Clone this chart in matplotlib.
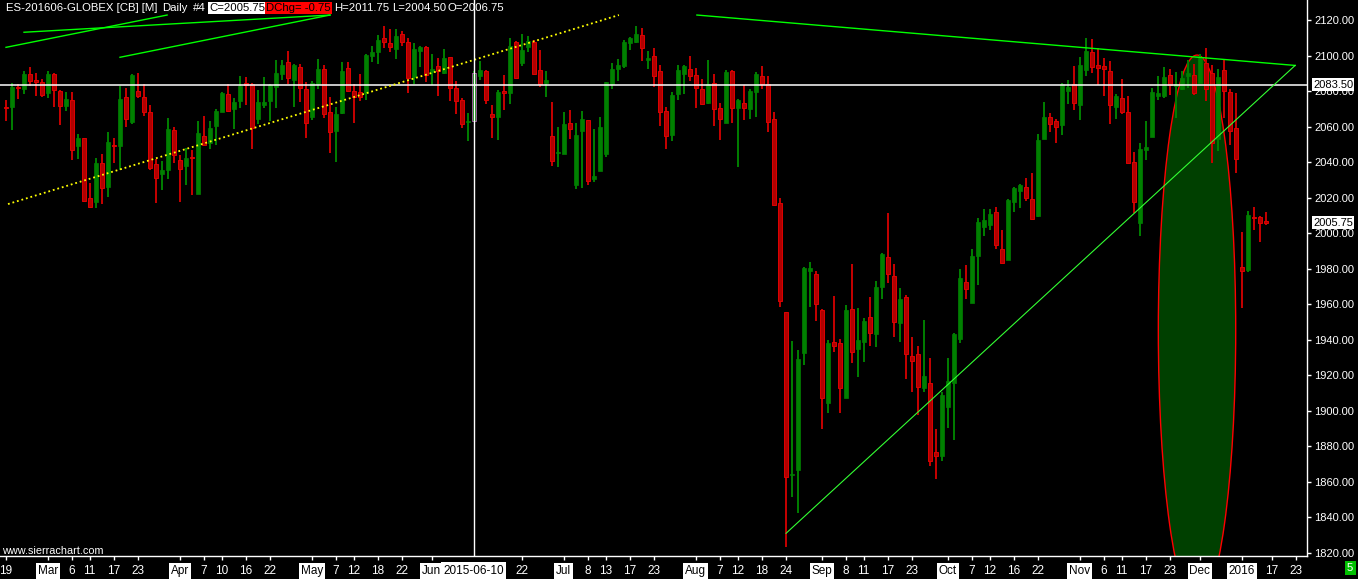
import numpy as np
import matplotlib.pyplot as plt
from matplotlib.patches import Ellipse
from matplotlib.ticker import FormatStrFormatter
from matplotlib.transforms import blended_transform_factory

plt.rcParams['font.family'] = ['Liberation Sans', 'DejaVu Sans']

W, H = 1358, 579

## daily OHLC, ES-201606 (bar 0 = Feb 19)
opens = [2071.0, 2071.2, 2082.4, 2081.1, 2089.4, 2086.2, 2084.9, 2079.1, 2089.4, 2080.2,
         2071.7, 2074.9, 2049.2, 2053.3, 2019.9, 2017.7, 2039.2, 2026.1, 2049.6, 2049.2,
         2076.4, 2062.3, 2080.2, 2076.8, 2068.0, 2038.7, 2033.1, 2035.5, 2058.0, 2041.1,
         2037.9, 2043.0, 2021.9, 2054.7, 2050.5, 2060.5, 2068.4, 2078.3, 2069.7, 2074.6,
         2084.7, 2083.9, 2064.0, 2072.1, 2074.4, 2082.4, 2089.4, 2096.2, 2086.2, 2093.3,
         2081.1, 2065.5, 2083.8, 2092.4, 2068.4, 2057.6, 2067.8, 2093.2, 2080.2, 2079.3,
         2078.7, 2099.9, 2101.8, 2109.7, 2106.9, 2103.5, 2111.9, 2107.4, 2088.1, 2102.7,
         2104.6, 2090.5, 2094.3, 2090.0, 2099.0, 2081.9, 2074.9, 2062.7, 2063.1, 2088.5,
         2091.5, 2067.0, 2065.5, 2080.0, 2079.1, 2107.8, 2096.0, 2105.0, 2107.8, 2091.8,
         2084.7, 2054.7, 2044.9, 2044.5, 2061.8, 2027.0, 2057.6, 2063.7, 2030.2, 2034.9,
         2044.5, 2083.9, 2092.4, 2094.1, 2107.2, 2107.8, 2111.6, 2097.5, 2099.7, 2091.3,
         2068.7, 2055.2, 2078.1, 2089.4, 2092.4, 2089.0, 2080.9, 2073.0, 2084.3, 2070.2,
         2062.2, 2091.3, 2070.6, 2073.0, 2069.7, 2079.6, 2088.4, 2083.8, 2064.2, 2016.7,
         1955.3, 1863.7, 1866.5, 1932.2, 1978.8, 1976.9, 1956.6, 1904.4, 1938.8, 1938.2,
         1907.2, 1957.2, 1934.5, 1938.8, 1952.5, 1943.1, 1969.8, 1986.3, 1976.0, 1949.1,
         1964.1, 1930.7, 1931.6, 1912.9, 1915.3, 1876.4, 1874.5, 1902.2, 1915.3, 1940.3,
         1972.6, 1960.8, 1987.0, 2003.6, 2004.5, 2012.0, 1991.0, 1984.8, 2017.7, 2023.7,
         2025.7, 2019.0, 2009.6, 2053.0, 2065.2, 2063.1, 2060.8, 2080.0, 2083.9, 2072.1,
         2091.8, 2102.2, 2094.7, 2094.3, 2091.3, 2071.2, 2075.9, 2068.0, 2039.8, 2005.8,
         2046.8, 2054.3, 2077.2, 2077.2, 2089.0, 2082.8, 2081.0, 2088.5, 2089.0, 2084.3,
         2096.0, 2090.0, 2052.8, 2091.8, 2079.6, 2059.3, 1981.0, 1979.2, 2009.2, 2008.8,
         2006.75]
highs = [2074.9, 2084.3, 2083.8, 2091.3, 2093.7, 2090.0, 2086.6, 2091.3, 2090.0, 2080.6,
         2079.3, 2079.3, 2055.8, 2053.3, 2028.0, 2042.1, 2044.3, 2056.7, 2053.3, 2082.8,
         2081.5, 2089.4, 2090.0, 2083.8, 2072.1, 2041.7, 2040.6, 2065.0, 2059.9, 2043.9,
         2047.7, 2046.8, 2063.1, 2065.9, 2063.1, 2069.7, 2079.6, 2083.8, 2075.9, 2088.5,
         2088.1, 2084.3, 2080.6, 2088.1, 2083.8, 2097.5, 2097.5, 2102.5, 2095.0, 2095.0,
         2085.3, 2085.6, 2098.0, 2094.6, 2076.8, 2071.2, 2096.5, 2096.5, 2083.9, 2089.6,
         2100.8, 2105.4, 2111.6, 2116.6, 2114.9, 2114.9, 2113.8, 2110.1, 2106.9, 2105.4,
         2105.4, 2100.8, 2098.8, 2103.7, 2099.3, 2085.8, 2076.2, 2067.8, 2091.3, 2096.9,
         2091.8, 2072.1, 2080.6, 2089.0, 2110.1, 2108.2, 2112.1, 2111.0, 2108.7, 2103.1,
         2091.3, 2073.6, 2059.9, 2068.4, 2069.3, 2062.2, 2068.7, 2063.7, 2058.6, 2065.5,
         2085.3, 2096.0, 2098.0, 2108.7, 2110.6, 2116.6, 2115.3, 2102.5, 2104.0, 2094.6,
         2071.2, 2079.2, 2094.6, 2094.6, 2099.7, 2092.8, 2086.6, 2097.5, 2089.6, 2073.0,
         2091.8, 2091.8, 2075.3, 2083.4, 2080.9, 2090.9, 2094.1, 2088.4, 2068.0, 2019.5,
         1955.7, 1939.2, 1934.1, 1981.0, 1983.8, 1978.6, 1957.2, 1939.7, 1964.5, 1940.3,
         1959.4, 1982.5, 1957.9, 1951.9, 1963.8, 1973.0, 1988.9, 2011.1, 1982.5, 1968.8,
         1965.1, 1941.2, 1936.3, 1951.0, 1929.4, 1889.6, 1910.6, 1929.4, 1943.5, 1979.5,
         1982.0, 1990.8, 2008.3, 2013.3, 2013.3, 2014.5, 2001.7, 2019.0, 2026.1, 2027.6,
         2030.8, 2033.6, 2055.8, 2074.0, 2067.4, 2064.0, 2084.7, 2086.2, 2094.1, 2099.0,
         2109.7, 2109.1, 2104.0, 2098.4, 2096.9, 2078.3, 2086.6, 2077.2, 2045.8, 2050.5,
         2063.1, 2081.5, 2088.5, 2093.7, 2092.2, 2090.9, 2091.3, 2097.5, 2095.0, 2100.9,
         2104.4, 2094.7, 2092.4, 2097.5, 2081.0, 2079.1, 2000.8, 2012.4, 2014.5, 2009.6,
         2011.75]
lows = [2063.1, 2058.0, 2075.5, 2078.3, 2083.0, 2077.4, 2076.8, 2076.2, 2071.2, 2060.8,
        2068.9, 2041.1, 2041.7, 2017.7, 2014.3, 2014.3, 2016.2, 2020.5, 2039.6, 2035.5,
        2059.9, 2061.2, 2076.2, 2065.9, 2035.5, 2016.7, 2024.2, 2030.4, 2039.6, 2017.3,
        2027.0, 2021.4, 2021.9, 2049.2, 2047.3, 2049.6, 2068.0, 2068.0, 2058.6, 2070.6,
        2072.1, 2047.3, 2061.2, 2070.6, 2063.1, 2070.6, 2086.2, 2083.8, 2071.2, 2073.6,
        2053.7, 2063.7, 2081.1, 2064.6, 2044.9, 2040.2, 2067.0, 2079.3, 2062.2, 2074.6,
        2074.9, 2096.5, 2095.2, 2104.4, 2102.1, 2098.0, 2105.5, 2079.1, 2083.9, 2093.7,
        2085.3, 2083.4, 2077.4, 2089.4, 2074.6, 2066.9, 2059.3, 2052.0, 2063.1, 2086.2,
        2072.7, 2053.7, 2052.4, 2069.3, 2072.7, 2087.1, 2094.3, 2101.8, 2089.4, 2082.4,
        2076.8, 2037.9, 2037.4, 2044.5, 2053.0, 2024.8, 2025.5, 2027.0, 2028.9, 2034.9,
        2043.0, 2081.1, 2085.8, 2093.2, 2103.1, 2107.2, 2097.1, 2092.4, 2082.4, 2060.3,
        2047.3, 2051.8, 2074.9, 2078.3, 2085.6, 2070.6, 2072.1, 2072.7, 2060.5, 2052.4,
        2062.2, 2061.8, 2037.4, 2063.7, 2064.2, 2065.5, 2080.9, 2057.1, 2015.4, 1958.5,
        1822.9, 1851.5, 1842.1, 1925.6, 1958.5, 1950.4, 1889.6, 1898.8, 1933.2, 1898.8,
        1907.2, 1926.9, 1919.1, 1927.5, 1936.5, 1935.6, 1962.8, 1972.0, 1941.6, 1938.8,
        1917.7, 1910.6, 1897.5, 1910.6, 1868.9, 1861.4, 1871.7, 1890.3, 1883.4, 1937.8,
        1962.6, 1960.8, 1970.7, 1998.3, 2001.7, 1991.0, 1982.9, 1984.8, 2012.0, 2014.3,
        2018.2, 2007.7, 2008.8, 2053.0, 2057.1, 2050.9, 2055.2, 2072.7, 2069.3, 2063.7,
        2088.6, 2090.3, 2083.4, 2077.4, 2061.4, 2064.2, 2067.0, 2039.3, 2011.1, 1998.5,
        2041.1, 2054.3, 2075.0, 2075.9, 2077.8, 2065.0, 2080.6, 2081.5, 2077.8, 2084.3,
        2074.6, 2039.6, 2046.4, 2064.6, 2049.6, 2034.0, 1958.0, 1978.2, 2001.7, 1995.1,
        2004.50]
closes = [2070.5, 2082.4, 2081.9, 2089.4, 2085.8, 2085.3, 2077.8, 2089.4, 2080.6, 2071.7,
          2075.5, 2046.8, 2053.3, 2018.0, 2014.8, 2039.6, 2025.2, 2051.1, 2049.0, 2075.5,
          2064.0, 2089.0, 2077.4, 2068.0, 2036.4, 2031.2, 2035.5, 2058.6, 2043.9, 2035.9,
          2042.4, 2042.4, 2056.2, 2049.6, 2059.4, 2068.7, 2078.7, 2068.7, 2073.6, 2082.8,
          2083.4, 2059.0, 2073.6, 2073.6, 2083.4, 2090.0, 2094.6, 2087.5, 2094.6, 2081.5,
          2061.8, 2084.3, 2092.4, 2066.9, 2057.1, 2067.0, 2091.3, 2080.0, 2076.8, 2076.8,
          2100.3, 2101.8, 2108.7, 2107.4, 2105.0, 2111.0, 2107.4, 2087.5, 2103.7, 2104.6,
          2089.0, 2092.4, 2091.3, 2098.8, 2081.5, 2074.6, 2061.2, 2063.1, 2090.0, 2091.8,
          2074.9, 2065.5, 2079.6, 2079.1, 2105.4, 2087.5, 2103.1, 2108.2, 2089.6, 2083.9,
          2086.2, 2040.8, 2045.3, 2061.4, 2058.6, 2055.2, 2064.2, 2029.5, 2032.1, 2059.9,
          2085.3, 2092.4, 2094.6, 2107.8, 2109.7, 2111.9, 2104.4, 2098.8, 2088.6, 2068.0,
          2054.8, 2077.7, 2091.8, 2094.3, 2088.6, 2081.5, 2072.7, 2083.8, 2069.7, 2064.0,
          2090.5, 2070.2, 2074.9, 2070.6, 2080.0, 2089.6, 2083.9, 2062.7, 2015.8, 1961.9,
          1862.3, 1864.2, 1928.8, 1980.5, 1980.5, 1959.8, 1906.9, 1938.2, 1936.3, 1912.5,
          1956.6, 1933.2, 1939.7, 1950.4, 1943.5, 1969.8, 1988.0, 1976.7, 1950.0, 1962.8,
          1931.6, 1928.1, 1913.4, 1919.4, 1871.7, 1874.5, 1908.7, 1916.6, 1943.1, 1974.5,
          1968.3, 1987.0, 2006.4, 2007.3, 2010.7, 1993.2, 1983.3, 2018.6, 2025.2, 2027.1,
          2019.9, 2007.7, 2052.4, 2065.2, 2061.4, 2059.9, 2083.9, 2082.4, 2073.1, 2094.7,
          2102.7, 2093.7, 2093.2, 2092.4, 2072.1, 2077.2, 2068.4, 2039.6, 2017.7, 2047.3,
          2048.6, 2079.6, 2079.1, 2088.1, 2083.4, 2083.9, 2087.5, 2090.0, 2079.1, 2098.4,
          2081.0, 2050.5, 2087.7, 2080.2, 2057.7, 2041.5, 1978.8, 2010.2, 2008.6, 2005.8,
          2005.75]

tick_bars = [0, 7, 11, 14, 18, 22, 29, 33, 36, 40, 44, 51, 55, 58, 62, 66, 71, 86,
             93, 97, 100, 104, 108, 115, 119, 122, 126, 130, 136, 140, 143, 147, 151,
             157, 161, 164, 168, 172, 179, 183, 186, 190, 194, 199, 206, 211, 215]
tick_labels = ['19', 'Mar', '6', '11', '17', '23', 'Apr', '7', '10', '16', '22', 'May',
               '7', '12', '18', '22', 'Jun', '22', 'Jul', '8', '13', '17', '23', 'Aug',
               '7', '12', '18', '24', 'Sep', '8', '11', '17', '23', 'Oct', '7', '12',
               '16', '22', 'Nov', '6', '11', '17', '23', 'Dec', '2016', '17', '23']
month_labels = ['Mar', 'Apr', 'May', 'Jun', 'Jul', 'Aug', 'Sep', 'Oct', 'Nov', 'Dec', '2016']

cross_bar = 78
cross_date = '2015-06-10'
level_price = 2083.50
last_price = 2005.75

# drawn tools: (bar, price) end points
yellow_line = [(0.38, 2016.3), (102.2, 2122.8)]
green_lines = [[(0.05, 2104.6), (26.9, 2122.8)],
               [(3.05, 2113.1), (54.05, 2122.8)],
               [(19.05, 2099.0), (54.05, 2122.8)],
               [(115.2, 2122.8), (214.9, 2094.4)]]
support_line = [(130.05, 1830.8), (214.9, 2094.4)]
ellipse_center = (198.55, 1945.3)
ellipse_size = (12.9, 309.9)

o = np.array(opens)
h = np.array(highs)
l = np.array(lows)
c = np.array(closes)
x = np.arange(len(o))
up = c >= o

fig = plt.figure(figsize=(W / 100, H / 100), dpi=100, facecolor='black')
ax = fig.add_axes([0, 1 - 556 / H, 1307 / W, 556 / H])
ax.set_facecolor('black')
ax.set_xlim(-0.95, 216.88)
ax.set_ylim(1818.03, 2131.27)

ax.add_patch(Ellipse(ellipse_center, ellipse_size[0], ellipse_size[1],
                     facecolor='#004000', edgecolor='#ff0000', lw=1, zorder=1))

# candles
red_wick, red_body, red_edge = '#c80000', '#b00000', '#e00000'
green = '#008000'
ax.vlines(x[up], l[up], h[up], colors=green, lw=1.4, zorder=3)
ax.vlines(x[~up], l[~up], h[~up], colors=red_wick, lw=1.4, zorder=3)
body_lo = np.minimum(o, c)
body_h = np.maximum(np.abs(c - o), 0.6)
ax.bar(x[up], body_h[up], bottom=body_lo[up], width=0.62, color=green,
       edgecolor=green, lw=0.5, zorder=4)
ax.bar(x[~up], body_h[~up], bottom=body_lo[~up], width=0.62, color=red_body,
       edgecolor=red_edge, lw=0.7, zorder=4)
ax.bar(cross_bar, body_h[cross_bar], bottom=body_lo[cross_bar], width=0.62,
       color=green, edgecolor='#b050b0', lw=0.6, zorder=4)

ax.axhline(level_price, color='white', lw=1.1, zorder=5)
ax.axvline(cross_bar, color='white', lw=1.0, zorder=6)

(x0, y0), (x1, y1) = yellow_line
ax.plot([x0, x1], [y0, y1], color='#ffff00', lw=1.3, linestyle=(0, (1, 1.6)), zorder=5)
for (x0, y0), (x1, y1) in green_lines:
    ax.plot([x0, x1], [y0, y1], color='#00ff00', lw=1.0, zorder=5)
(x0, y0), (x1, y1) = support_line
ax.plot([x0, x1], [y0, y1], color='#33ff33', lw=0.8, zorder=5)

for s in ['left', 'top']:
    ax.spines[s].set_visible(False)
for s in ['bottom', 'right']:
    ax.spines[s].set_color('white')
    ax.spines[s].set_linewidth(1.0)

ax.yaxis.tick_right()
ax.set_yticks(np.arange(1820, 2121, 20))
ax.yaxis.set_major_formatter(FormatStrFormatter('%.2f'))
ax.tick_params(axis='y', colors='white', length=3, width=1, pad=2, labelsize=8.0)
ax.set_xticks(tick_bars, tick_labels)
ax.tick_params(axis='x', colors='white', length=3, width=1, pad=3.5, labelsize=8.5)
for lab in ax.get_xticklabels():
    if lab.get_text() in month_labels:
        lab.set_color('black')
        lab.set_bbox(dict(boxstyle='square,pad=0.15', fc='white', ec='none'))

right = blended_transform_factory(ax.transAxes, ax.transData)
for p in [level_price, last_price]:
    ax.text(1.0 + 6 / 1307, p, '%.2f' % p, transform=right, color='black', fontsize=8.0,
            va='center', ha='left', clip_on=False, zorder=10,
            bbox=dict(boxstyle='square,pad=0.12', fc='white', ec='none'))
ax.text(cross_bar, -(14.5 / 556), cross_date, transform=ax.get_xaxis_transform(),
        color='black', fontsize=8.5, va='center', ha='center', clip_on=False, zorder=10,
        bbox=dict(boxstyle='square,pad=0.2', fc='white', ec='none'))


def px_text(px, py, s, **kw):
    kw.setdefault('fontsize', 8.2)
    fig.text(px / W, 1 - py / H, s, va='center', ha='left', **kw)


px_text(6, 8, 'ES-201606-GLOBEX [CB] [M]', color='white')
px_text(162, 8, 'Daily', color='white')
px_text(193, 8, '#4', color='white')
px_text(209, 8, 'C=2005.75', color='black',
        bbox=dict(boxstyle='square,pad=0.1', fc='white', ec='none'))
px_text(266, 8, 'DChg= -0.75', color='black',
        bbox=dict(boxstyle='square,pad=0.1', fc='#ff0000', ec='none'))
px_text(334, 8, 'H=2011.75', color='white')
px_text(392, 8, 'L=2004.50', color='white')
px_text(447, 8, 'O=2006.75', color='white')
px_text(2, 551, 'www.sierrachart.com', color='white', fontsize=7.8)
px_text(1347, 568, '5', color='white',
        bbox=dict(boxstyle='square,pad=0.2', fc='#00c000', ec='none'))

fig.savefig('out.png', dpi=100, facecolor='black')
